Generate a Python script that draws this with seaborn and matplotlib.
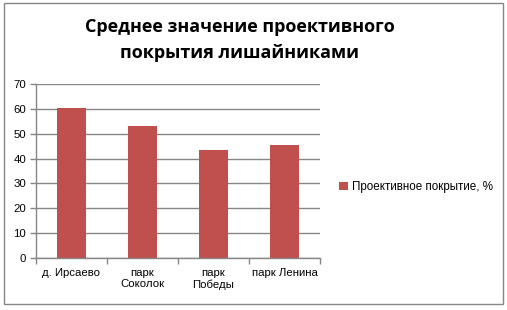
import matplotlib
matplotlib.use("Agg")
import matplotlib.pyplot as plt
import seaborn as sns
import pandas as pd
from matplotlib.patches import Rectangle

# данные с диаграммы
sites = ["д. Ирсаево", "парк\nСоколок", "парк\nПобеды", "парк Ленина"]
cover = [60.5, 53.3, 43.3, 45.3]
series_name = "Проективное покрытие, %"
title = "Среднее значение проективного\nпокрытия лишайниками"

bar_color = "#C0504D"
grey = "#868686"

sns.set_theme(style="white")
plt.rcParams["font.family"] = ["Liberation Sans", "DejaVu Sans"]
plt.rcParams["text.color"] = "black"
plt.rcParams["xtick.color"] = "black"
plt.rcParams["ytick.color"] = "black"

df = pd.DataFrame({"site": sites, "cover": cover})

W, H = 507, 310
fig = plt.figure(figsize=(W / 100, H / 100), dpi=100)
fig.patch.set_facecolor("white")

# рамка диаграммы
fig.patches.append(Rectangle((4 / W, 1 - 304 / H), 499 / W, 301 / H,
                             transform=fig.transFigure, fill=False,
                             edgecolor=grey, linewidth=1))

ax = fig.add_axes([36 / W, 1 - 258 / H, 284 / W, 174 / H])
sns.barplot(data=df, x="site", y="cover", color=bar_color, width=0.4,
            saturation=1, label=series_name, linewidth=0, ax=ax)

ax.set_ylim(0, 70)
ax.set_xlim(-0.5, 3.5)
ax.set_yticks(range(0, 71, 10))
ax.yaxis.grid(True, color=grey, linewidth=1)
ax.set_axisbelow(True)
ax.set_xlabel("")
ax.set_ylabel("")
for s in ["top", "right"]:
    ax.spines[s].set_visible(False)
for s in ["left", "bottom"]:
    ax.spines[s].set_color(grey)
    ax.spines[s].set_linewidth(1)

ax.tick_params(axis="y", length=4, color=grey, width=1, labelsize=8.2,
               labelcolor="black", pad=3, left=True)
ax.tick_params(axis="x", which="major", length=0, labelsize=8.2,
               labelcolor="black", pad=7)
ax.set_xticks([-0.5, 0.5, 1.5, 2.5, 3.5], minor=True)
ax.tick_params(axis="x", which="minor", length=4, color=grey, width=1,
               bottom=True, direction="out")

ax.legend(loc="center left", bbox_to_anchor=(339 / W, 1 - 187 / H),
          bbox_transform=fig.transFigure, frameon=False, fontsize=8.4,
          handlelength=0.75, handleheight=0.75, handletextpad=0.35,
          borderpad=0, borderaxespad=0)

fig.text(240 / W, 1 - 40 / H, title, ha="center", va="center",
         fontsize=13, fontweight="bold", linespacing=1.6,
         color="black", family=["Open Sans", "DejaVu Sans"])

fig.savefig("out.png", dpi=100)
